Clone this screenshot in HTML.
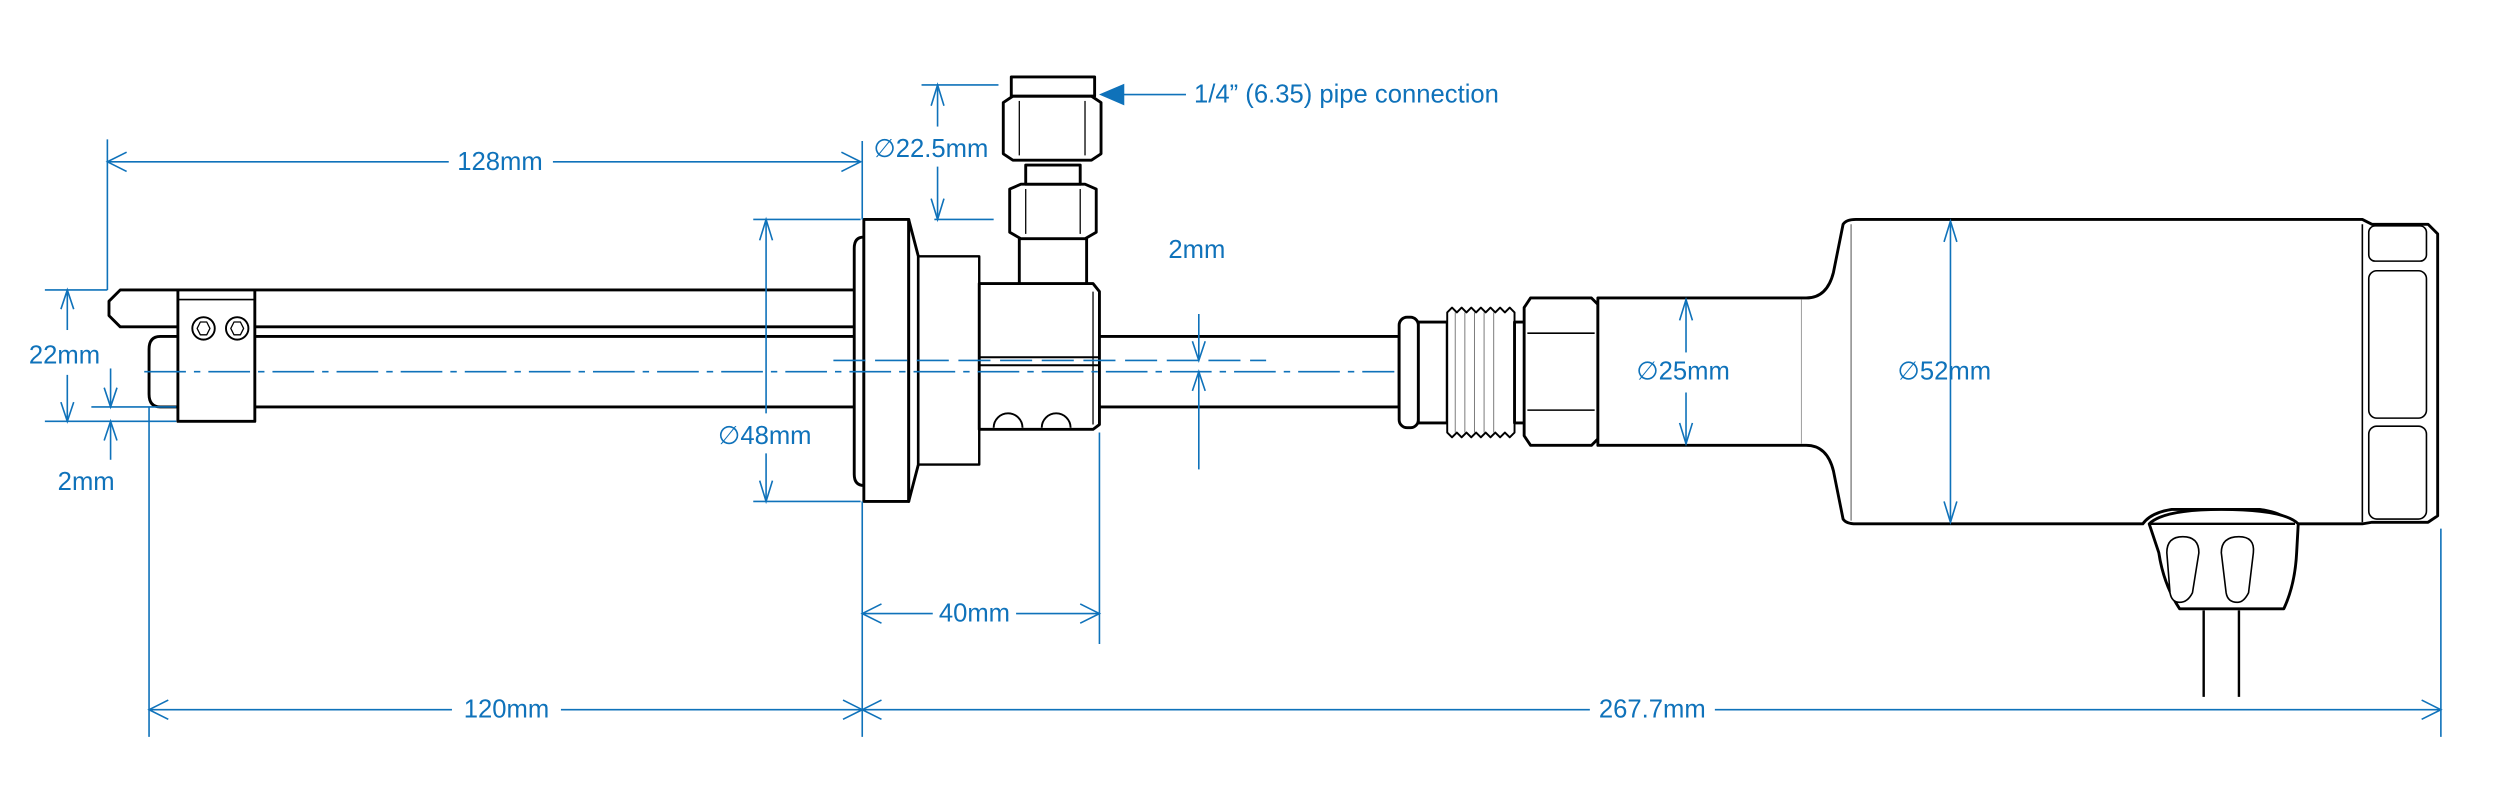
<!DOCTYPE html>
<html><head><meta charset="utf-8"><style>
html,body{margin:0;padding:0;background:#fff;}
svg{display:block;}
text{font-family:"Liberation Sans",sans-serif;fill:#0f72ba;font-size:16px;}
</style></head><body>
<svg width="2513" height="793" viewBox="0 0 1568 495" preserveAspectRatio="none" xmlns="http://www.w3.org/2000/svg">
<g fill="#fff" stroke="#000" stroke-width="1.8" stroke-linejoin="round">
<!-- upper bar -->
<polygon points="75,181 537,181 537,204 75,204 68,197 68,188"/>
<!-- lower tube -->
<path d="M100,210 H537 V254 H100 Q93,254 93,246 V218 Q93,210 100,210 Z"/>
<!-- clamp -->
<rect x="111" y="181" width="48" height="82"/>
<line x1="111" y1="187" x2="159" y2="187" stroke-width="1"/>
<circle cx="127" cy="205" r="7" stroke-width="1.2"/><circle cx="148" cy="205" r="7" stroke-width="1.2"/>
<polygon points="123,205 125,201 129,201 131,205 129,209 125,209" stroke-width="0.8"/>
<polygon points="144,205 146,201 150,201 152,205 150,209 146,209" stroke-width="0.8"/>
<!-- right tube -->
<rect x="685" y="210" width="188" height="44"/>
<!-- flange -->
<path d="M539,148 Q533,148 533,155 V296 Q533,303 539,303 Z"/>
<rect x="539" y="137" width="28" height="176"/>
<polygon points="567,137 573,160 573,290 567,313"/>
<rect x="573" y="160" width="38" height="130" stroke-width="1.5"/>
<!-- tee -->
<polygon points="611,177 682,177 686,182 686,265 682,268 611,268"/>
<line x1="611" y1="223" x2="686" y2="223" stroke-width="1.2"/>
<line x1="611" y1="228" x2="686" y2="228" stroke-width="1.2"/>
<line x1="682" y1="182" x2="682" y2="265" stroke-width="0.8"/>
<path d="M620,267 A9,9 0 0 1 638,267" stroke-width="1.2"/>
<path d="M650,267 A9,9 0 0 1 668,267" stroke-width="1.2"/>
<!-- vertical fitting -->
<rect x="636" y="148" width="42" height="29"/>
<path d="M630,118 L637,115 H677 L684,118 V145 L677,149 H637 L630,145 Z"/>
<line x1="640" y1="118" x2="640" y2="146" stroke-width="0.8"/><line x1="674" y1="118" x2="674" y2="146" stroke-width="0.8"/>
<rect x="640" y="103" width="34" height="12"/>
<path d="M626,64 L632,60 H681 L687,64 V96 L681,100 H632 L626,96 Z"/>
<line x1="636" y1="63" x2="636" y2="97" stroke-width="0.8"/><line x1="677" y1="63" x2="677" y2="97" stroke-width="0.8"/>
<rect x="631" y="48" width="52" height="12"/>
<!-- end groove -->
<rect x="873" y="198" width="12" height="69" rx="5"/>
<rect x="885" y="201" width="18" height="63"/>
<path d="M903,195 l3,-3 3,3 3,-3 3,3 3,-3 3,3 3,-3 3,3 3,-3 3,3 3,-3 3,3 3,-3 3,3 V270 l-3,3 -3,-3 -3,3 -3,-3 -3,3 -3,-3 -3,3 -3,-3 -3,3 -3,-3 -3,3 -3,-3 -3,3 -3,-3 Z" stroke-width="1.2"/>
<g stroke-width="0.6" stroke="#777"><line x1="908" y1="195" x2="908" y2="270"/><line x1="914" y1="195" x2="914" y2="270"/><line x1="920" y1="195" x2="920" y2="270"/><line x1="926" y1="195" x2="926" y2="270"/><line x1="932" y1="195" x2="932" y2="270"/></g>
<rect x="945" y="201" width="8" height="63"/>
<!-- hex nut -->
<path d="M955,186 H993 L997,190 V274 L993,278 H955 L951,272 V192 Z"/>
<line x1="953" y1="208" x2="995" y2="208" stroke-width="1"/><line x1="953" y1="256" x2="995" y2="256" stroke-width="1"/>
<!-- body -->
<path d="M997,186 H1127 Q1140,186 1144,170 L1150,140 Q1152,137 1158,137 H1474 L1480,140 H1515 L1521,146 V322 L1515,326 H1480 L1474,327 H1430 Q1425,320 1410,318 H1355 Q1342,320 1337,327 H1158 Q1152,327 1150,324 L1144,294 Q1140,278 1127,278 H997 Z"/>
<line x1="1124" y1="187" x2="1124" y2="277" stroke-width="0.6" stroke="#999"/>
<line x1="1155" y1="140" x2="1155" y2="325" stroke-width="0.8" stroke="#777"/>
<line x1="1474" y1="140" x2="1474" y2="326" stroke-width="1"/>
<rect x="1478" y="141" width="36" height="22" rx="4" stroke-width="1"/>
<rect x="1478" y="169" width="36" height="92" rx="5" stroke-width="1"/>
<rect x="1478" y="266" width="36" height="58" rx="5" stroke-width="1"/>
<!-- gland -->
<path d="M1341,327 Q1350,318 1386,318 Q1425,318 1434,327 L1433,345 Q1432,365 1425,380 H1360 Q1350,365 1347,345 Z"/>
<line x1="1342" y1="327" x2="1432" y2="327" stroke-width="1.5"/>
<path d="M1352,345 Q1352,335 1362,335 Q1372,335 1372,345 L1368,370 Q1365,376 1360,376 Q1355,376 1354,370 Z" stroke-width="1"/>
<path d="M1386,345 Q1386,335 1397,335 Q1407,335 1406,345 L1403,370 Q1400,376 1396,376 Q1390,376 1389,370 Z" stroke-width="1"/>
<line x1="1375" y1="381" x2="1375" y2="435" stroke-width="1.5"/>
<line x1="1397" y1="381" x2="1397" y2="435" stroke-width="1.5"/>
</g>
<g fill="none" stroke="#0f72ba" stroke-width="1">
<!-- 128mm -->
<line x1="67" y1="87" x2="67" y2="181"/>
<line x1="67" y1="101" x2="280" y2="101"/><line x1="345" y1="101" x2="537" y2="101"/>
<polyline points="79,95 67,101 79,107"/><polyline points="525,95 537,101 525,107"/>
<line x1="538" y1="88" x2="538" y2="137"/>
<line x1="538" y1="313" x2="538" y2="460"/>
<line x1="93" y1="254" x2="93" y2="460"/>
<line x1="686" y1="270" x2="686" y2="402"/>
<line x1="1523" y1="330" x2="1523" y2="460"/>
<!-- 22mm -->
<line x1="28" y1="181" x2="67" y2="181"/><line x1="28" y1="263" x2="110" y2="263"/>
<line x1="42" y1="181" x2="42" y2="206"/><line x1="42" y1="234" x2="42" y2="263"/>
<polyline points="38,193 42,181 46,193"/><polyline points="38,251 42,263 46,251"/>
<!-- 2mm left -->
<line x1="57" y1="254" x2="110" y2="254"/>
<line x1="69" y1="230" x2="69" y2="254"/><polyline points="65,242 69,254 73,242"/>
<line x1="69" y1="263" x2="69" y2="287"/><polyline points="65,275 69,263 73,275"/>
<!-- 48mm -->
<line x1="470" y1="137" x2="537" y2="137"/><line x1="470" y1="313" x2="537" y2="313"/>
<line x1="478" y1="137" x2="478" y2="258"/><line x1="478" y1="283" x2="478" y2="313"/>
<polyline points="474,150 478,137 482,150"/><polyline points="474,300 478,313 482,300"/>
<!-- 22.5mm -->
<line x1="575" y1="53" x2="623" y2="53"/><line x1="583" y1="137" x2="620" y2="137"/>
<line x1="585" y1="53" x2="585" y2="79"/><line x1="585" y1="104" x2="585" y2="137"/>
<polyline points="581,66 585,53 589,66"/><polyline points="581,124 585,137 589,124"/>
<line x1="700" y1="59" x2="740" y2="59"/>
<polygon points="687,59 701,53 701,65" fill="#0f72ba"/>
<!-- 2mm right -->
<line x1="748" y1="196" x2="748" y2="225"/><polyline points="744,213 748,225 752,213"/>
<line x1="748" y1="232" x2="748" y2="293"/><polyline points="744,244 748,232 752,244"/>
<!-- centerlines -->
<line x1="90" y1="232" x2="870" y2="232" stroke-dasharray="26,5,4,5"/>
<line x1="520" y1="225" x2="790" y2="225" stroke-dasharray="20,6"/>
<!-- 40mm -->
<line x1="538" y1="383" x2="582" y2="383"/><line x1="634" y1="383" x2="686" y2="383"/>
<polyline points="550,377 538,383 550,389"/><polyline points="674,377 686,383 674,389"/>
<!-- 120mm / 267.7 -->
<line x1="93" y1="443" x2="282" y2="443"/><line x1="350" y1="443" x2="538" y2="443"/>
<polyline points="105,437 93,443 105,449"/><polyline points="526,437 538,443 526,449"/>
<line x1="538" y1="443" x2="992" y2="443"/><line x1="1070" y1="443" x2="1523" y2="443"/>
<polyline points="550,437 538,443 550,449"/><polyline points="1511,437 1523,443 1511,449"/>
<!-- 25mm 52mm -->
<line x1="1052" y1="187" x2="1052" y2="220"/><line x1="1052" y1="245" x2="1052" y2="277"/>
<polyline points="1048,200 1052,187 1056,200"/><polyline points="1048,264 1052,277 1056,264"/>
<line x1="1217" y1="138" x2="1217" y2="326"/>
<polyline points="1213,151 1217,138 1221,151"/><polyline points="1213,313 1217,326 1221,313"/>
</g>
<g>
<text x="312" y="106" text-anchor="middle">128mm</text>
<text x="545" y="98">∅22.5mm</text>
<text x="745" y="64">1/4” (6.35) pipe connection</text>
<text x="18" y="227">22mm</text>
<text x="36" y="306">2mm</text>
<text x="448" y="277">∅48mm</text>
<text x="729" y="161">2mm</text>
<text x="608" y="388" text-anchor="middle">40mm</text>
<text x="316" y="448" text-anchor="middle">120mm</text>
<text x="1031" y="448" text-anchor="middle">267.7mm</text>
<text x="1021" y="237">∅25mm</text>
<text x="1184" y="237">∅52mm</text>
</g>
</svg>
</body></html>
